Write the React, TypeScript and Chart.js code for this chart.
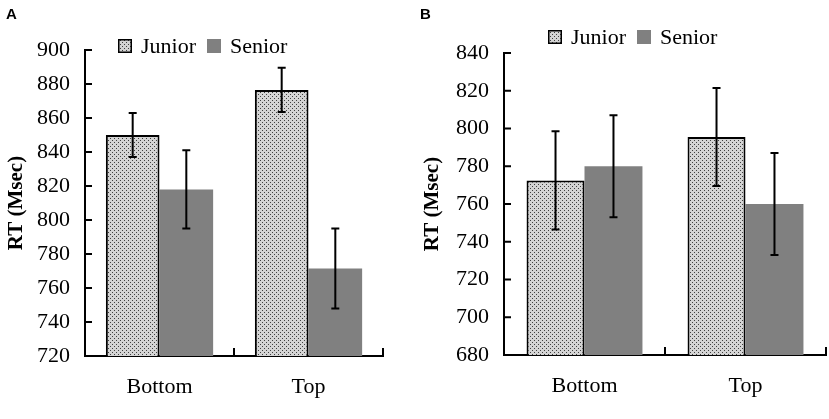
import { useEffect, useRef } from "react"
import { Chart, registerables } from "chart.js"

Chart.register(...registerables)

const categories = ["Bottom", "Top"]
const seriesNames = ["Junior", "Senior"]

// Panel A
const juniorA = [850, 876.5]
const seniorA = [818, 771.5]
const juniorErrA = [13, 13]
const seniorErrA = [23, 23.5]
const ticksA = [720, 740, 760, 780, 800, 820, 840, 860, 880, 900]

// Panel B
const juniorB = [772.5, 795.5]
const seniorB = [780, 760]
const juniorErrB = [26, 26]
const seniorErrB = [27, 27]
const ticksB = [680, 700, 720, 740, 760, 780, 800, 820, 840]

const SERIF = "'Liberation Serif', 'Times New Roman', serif"
const SENIOR_GREY = "#808080"

Chart.defaults.font.family = SERIF
Chart.defaults.color = "#000"

function makeDots(ctx: CanvasRenderingContext2D) {
  const c = document.createElement("canvas")
  c.width = 4
  c.height = 4
  const g = c.getContext("2d")!
  g.fillStyle = "#d4d4d4"
  g.fillRect(0, 0, 4, 4)
  g.fillStyle = "#404040"
  g.fillRect(0, 0, 1, 1)
  g.fillRect(2, 2, 1, 1)
  return ctx.createPattern(c, "repeat")!
}

// error bars on top of every bar
const errorBars = {
  id: "errorBars",
  afterDatasetsDraw(chart: any) {
    const ctx = chart.ctx
    const y = chart.scales.y
    ctx.save()
    ctx.strokeStyle = "#000"
    ctx.lineWidth = 2
    chart.data.datasets.forEach((ds: any, i: number) => {
      chart.getDatasetMeta(i).data.forEach((bar: any, j: number) => {
        const v = ds.data[j]
        const e = ds.errors[j]
        const top = y.getPixelForValue(v + e)
        const bot = y.getPixelForValue(v - e)
        ctx.beginPath()
        ctx.moveTo(bar.x, top)
        ctx.lineTo(bar.x, bot)
        ctx.moveTo(bar.x - 4, top)
        ctx.lineTo(bar.x + 4, top)
        ctx.moveTo(bar.x - 4, bot)
        ctx.lineTo(bar.x + 4, bot)
        ctx.stroke()
      })
    })
    ctx.restore()
  },
}

// tick marks pointing into the plot, as in the original figure
const innerTicks = {
  id: "innerTicks",
  afterDraw(chart: any) {
    const ctx = chart.ctx
    const area = chart.chartArea
    const x = chart.scales.x
    const y = chart.scales.y
    ctx.save()
    ctx.strokeStyle = "#000"
    ctx.lineWidth = 2
    ctx.beginPath()
    y.ticks.forEach((_t: any, i: number) => {
      const py = y.getPixelForTick(i)
      ctx.moveTo(area.left, py)
      ctx.lineTo(area.left + 7, py)
    })
    const step = x.getPixelForValue(1) - x.getPixelForValue(0)
    for (let k = 0; k <= x.ticks.length; k++) {
      const px = x.getPixelForValue(k) - step / 2
      ctx.moveTo(px, area.bottom)
      ctx.lineTo(px, area.bottom - 8)
    }
    ctx.stroke()
    ctx.restore()
  },
}

const boxLegend = {
  id: "boxLegend",
  afterDraw(chart: any, _args: any, opts: any) {
    const ctx = chart.ctx
    ctx.save()
    ctx.font = `22px ${SERIF}`
    ctx.textBaseline = "middle"
    ctx.fillStyle = "#000"
    let cx = opts.x
    chart.data.datasets.forEach((ds: any) => {
      ctx.fillStyle = ds.backgroundColor
      ctx.fillRect(cx, opts.y - 7, 14, 14)
      if (ds.borderWidth) {
        ctx.strokeStyle = "#000"
        ctx.lineWidth = 1.5
        ctx.strokeRect(cx + 0.75, opts.y - 6.25, 12.5, 12.5)
      }
      ctx.fillStyle = "#000"
      ctx.fillText(ds.label, cx + 23, opts.y + 1)
      cx += 23 + ctx.measureText(ds.label).width + 11
    })
    ctx.restore()
  },
}

interface PanelProps {
  letter: string
  left: number
  width: number
  junior: number[]
  senior: number[]
  juniorErr: number[]
  seniorErr: number[]
  ticks: number[]
  axisWidth: number
  axisHeight: number
  padTop: number
  padRight: number
  titlePad: number
  legendX: number
  legendY: number
}

function Panel(p: PanelProps) {
  const chartRef = useRef<HTMLCanvasElement>(null)
  const chartInstance = useRef<Chart | null>(null)

  useEffect(() => {
    if (!chartRef.current) return
    if (chartInstance.current) chartInstance.current.destroy()
    const ctx = chartRef.current.getContext("2d")
    if (!ctx) return
    const dots = makeDots(ctx)

    chartInstance.current = new Chart(ctx, {
      type: "bar",
      data: {
        labels: categories,
        datasets: [
          {
            label: seriesNames[0],
            data: p.junior,
            errors: p.juniorErr,
            backgroundColor: dots,
            borderColor: "#000",
            borderWidth: 2,
          } as any,
          {
            label: seriesNames[1],
            data: p.senior,
            errors: p.seniorErr,
            backgroundColor: SENIOR_GREY,
            borderWidth: 0,
          } as any,
        ],
      },
      options: {
        responsive: false,
        animation: false,
        categoryPercentage: 0.72,
        barPercentage: 1,
        layout: { padding: { top: p.padTop, right: p.padRight, left: 0, bottom: 0 } },
        scales: {
          x: {
            grid: { display: false, drawTicks: false },
            border: { display: true, color: "#000", width: 2 },
            ticks: {
              color: "#000",
              font: { family: SERIF, size: 22 },
              padding: 18,
              maxRotation: 0,
            },
            afterFit: (s: any) => {
              s.height = p.axisHeight
            },
          },
          y: {
            min: p.ticks[0],
            max: p.ticks[p.ticks.length - 1],
            grid: { display: false, drawTicks: false },
            border: { display: true, color: "#000", width: 2 },
            ticks: {
              stepSize: p.ticks[1] - p.ticks[0],
              color: "#000",
              font: { family: SERIF, size: 22 },
              padding: 15,
            },
            title: {
              display: true,
              text: "RT (Msec)",
              color: "#000",
              font: { family: SERIF, size: 21, weight: "bold" },
              padding: { top: p.titlePad, bottom: 0 },
            },
            afterFit: (s: any) => {
              s.width = p.axisWidth
            },
          },
        },
        plugins: {
          legend: { display: false },
          tooltip: { enabled: false },
          boxLegend: { x: p.legendX, y: p.legendY },
        } as any,
      },
      plugins: [errorBars, innerTicks, boxLegend],
    })

    return () => {
      if (chartInstance.current) {
        chartInstance.current.destroy()
        chartInstance.current = null
      }
    }
  }, [])

  return (
    <div style={{ position: "absolute", left: p.left, top: 0, width: p.width, height: 419 }}>
      <canvas ref={chartRef} width={p.width} height={419}></canvas>
      <div
        style={{
          position: "absolute",
          left: 6,
          top: 6,
          font: "bold 15px 'Liberation Sans', Arial, sans-serif",
          lineHeight: "15px",
        }}
      >
        {p.letter}
      </div>
    </div>
  )
}

export default function App() {
  return (
    <div style={{ position: "absolute", left: 0, top: 0, width: 829, height: 419, background: "#fff" }}>
      <Panel
        letter="A"
        left={0}
        width={410}
        junior={juniorA}
        senior={seniorA}
        juniorErr={juniorErrA}
        seniorErr={seniorErrA}
        ticks={ticksA}
        axisWidth={85}
        axisHeight={63}
        padTop={50}
        padRight={27}
        titlePad={4}
        legendX={118}
        legendY={46}
      />
      <Panel
        letter="B"
        left={414}
        width={415}
        junior={juniorB}
        senior={seniorB}
        juniorErr={juniorErrB}
        seniorErr={seniorErrB}
        ticks={ticksB}
        axisWidth={90}
        axisHeight={64}
        padTop={53}
        padRight={3}
        titlePad={6}
        legendX={134}
        legendY={37}
      />
    </div>
  )
}
